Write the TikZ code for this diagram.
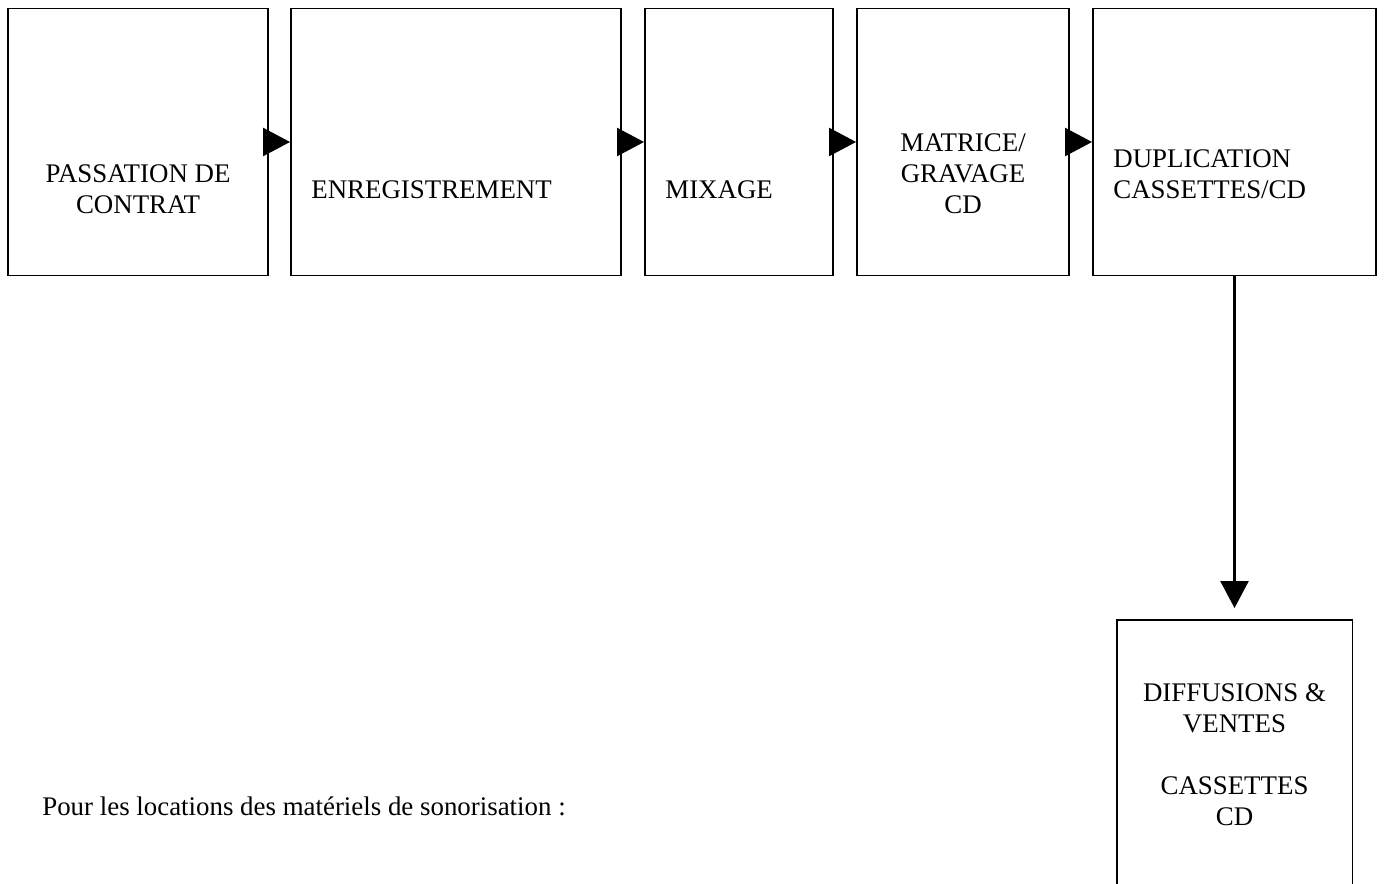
\documentclass[tikz,border=0pt]{standalone}
\usepackage{fontspec}
\setmainfont{Liberation Serif}
\usetikzlibrary{arrows, arrows.meta}
\tikzset{
  etape/.style={rectangle, draw, line width=1.1pt, inner sep=0pt},
  txt/.style={inner sep=0pt, font=\fontsize{15.3}{17.6}\selectfont},
  fleche/.style={line width=1.3pt, -{Triangle[length=5.4mm, width=5.6mm]}}
}
\begin{document}
\begin{tikzpicture}[x=0.02cm, y=-0.02cm]
      \useasboundingbox (0,0) rectangle (1386,884);

      \node[etape, minimum width=5.2cm, minimum height=5.34cm] (pc) at (138,142) {};
      \node[etape, minimum width=6.6cm, minimum height=5.34cm] (enr) at (456,142) {};
      \node[etape, minimum width=3.76cm, minimum height=5.34cm] (mix) at (739,142) {};
      \node[etape, minimum width=4.24cm, minimum height=5.34cm] (mat) at (963,142) {};
      \node[etape, minimum width=5.66cm, minimum height=5.34cm] (dup) at (1234.5,142) {};
      \node[etape, minimum width=4.72cm, minimum height=6cm] (diff) at (1234.5,770) {};

      \node[txt, align=center] (pc-t) at (138,189) {PASSATION DE\\CONTRAT};
      \node[txt, anchor=west] (enr-t) at (311,190) {ENREGISTREMENT};
      \node[txt, anchor=west] (mix-t) at (665,190) {MIXAGE};
      \node[txt, align=center] (mat-t) at (963,174) {MATRICE/\\GRAVAGE\\CD};
      \node[txt, anchor=west, align=left] (dup-t) at (1113,174) {DUPLICATION\\CASSETTES/CD};
      \node[txt, align=center] (diff-t) at (1234.5,755) {DIFFUSIONS \&\\VENTES\\[17.6pt]CASSETTES\\CD};

      \node[txt, anchor=west] (loc) at (42,806) {Pour les locations des matériels de sonorisation :};

      \draw[fleche] (pc.east) -- (enr.west);
      \draw[fleche] (enr.east) -- (mix.west);
      \draw[fleche] (mix.east) -- (mat.west);
      \draw[fleche] (mat.east) -- (dup.west);
      \draw[fleche, shorten >=2.2mm] (dup.south) -- (diff.north);
\end{tikzpicture}
\end{document}
